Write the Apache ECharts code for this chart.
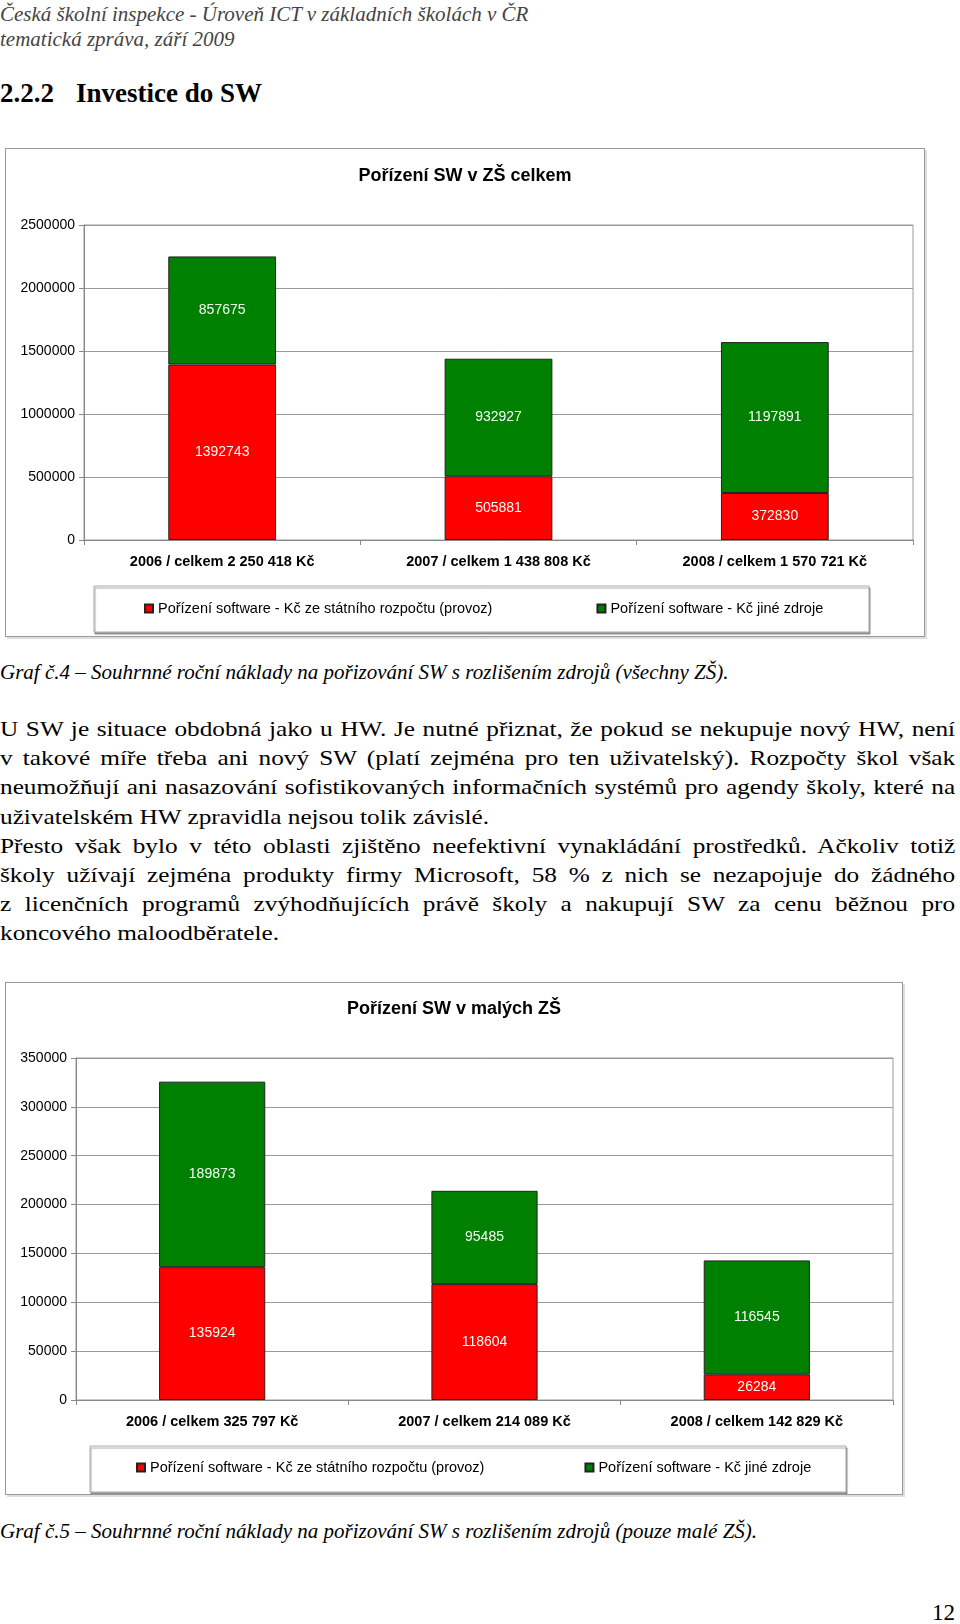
<!DOCTYPE html>
<html>
<head>
<meta charset="utf-8">
<title>Investice do SW</title>
<script src="https://cdn.jsdelivr.net/npm/echarts@6/dist/echarts.min.js"></script>
<style>
  body { margin: 0; width: 960px; height: 1624px; background: #fff; position: relative; font-family: "Liberation Serif", serif; color: #000; overflow: hidden; }
  .abs { position: absolute; white-space: nowrap; }
  #hdr { left: 0; top: 2px; font-style: italic; font-size: 21px; line-height: 24.5px; color: #444; }
  .h2 { top: 78px; font-weight: bold; font-size: 27px; }
  .chart { position: absolute; border: 1px solid #999; box-shadow: 2px 2px 0 #ddd; }
  #chart1 { left: 5px; top: 148px; width: 918px; height: 487px; }
  #chart2 { left: 5px; top: 982px; width: 896px; height: 511px; }
  .cap { font-style: italic; font-size: 21px; }
  #text { position: absolute; left: 0; top: 714px; width: 832px; font-size: 22px; line-height: 29.2px; transform: scaleX(1.148); transform-origin: 0 0; }
  #text div { text-align: justify; text-align-last: justify; white-space: nowrap; }
  #text div.end { text-align-last: left; }
</style>
</head>
<body>
<div id="hdr" class="abs">Česká školní inspekce - Úroveň ICT v základních školách v ČR<br>tematická zpráva, září 2009</div>
<div class="abs h2" style="left:0;">2.2.2</div>
<div class="abs h2" style="left:76px;">Investice do SW</div>

<div id="chart1" class="chart"></div>
<div class="abs cap" style="left:0;top:660px;">Graf č.4 – Souhrnné roční náklady na pořizování SW s rozlišením zdrojů (všechny ZŠ).</div>

<div id="text">
  <div>U SW je situace obdobná jako u HW. Je nutné přiznat, že pokud se nekupuje nový HW, není</div>
  <div>v takové míře třeba ani nový SW (platí zejména pro ten uživatelský). Rozpočty škol však</div>
  <div>neumožňují ani nasazování sofistikovaných informačních systémů pro agendy školy, které na</div>
  <div class="end">uživatelském HW zpravidla nejsou tolik závislé.</div>
  <div>Přesto však bylo v této oblasti zjištěno neefektivní vynakládání prostředků. Ačkoliv totiž</div>
  <div>školy užívají zejména produkty firmy Microsoft, 58 % z nich se nezapojuje do žádného</div>
  <div>z licenčních programů zvýhodňujících právě školy a nakupují SW za cenu běžnou pro</div>
  <div class="end">koncového maloodběratele.</div>
</div>

<div id="chart2" class="chart"></div>
<div class="abs cap" style="left:0;top:1519px;">Graf č.5 – Souhrnné roční náklady na pořizování SW s rozlišením zdrojů (pouze malé ZŠ).</div>
<div class="abs" style="left:932px;top:1600px;font-size:23px;">12</div>

<script>
var seriesNames = ['Pořízení software - Kč ze státního rozpočtu (provoz)', 'Pořízení software - Kč jiné zdroje'];

// graf 4 - vsechny ZS
var years1 = ['2006 / celkem 2 250 418 Kč', '2007 / celkem 1 438 808 Kč', '2008 / celkem 1 570 721 Kč'];
var statni1 = [1392743, 505881, 372830];
var jine1 = [857675, 932927, 1197891];
var yMax1 = 2500000, yStep1 = 500000;

// graf 5 - male ZS
var years2 = ['2006 / celkem 325 797 Kč', '2007 / celkem 214 089 Kč', '2008 / celkem 142 829 Kč'];
var statni2 = [135924, 118604, 26284];
var jine2 = [189873, 95485, 116545];
var yMax2 = 350000, yStep2 = 50000;

function makeOption(cfg) {
  var barLabel = { show: true, position: 'inside', color: '#f4fff4', fontSize: 14, fontFamily: 'Liberation Sans' };
  return {
    animation: false,
    textStyle: { fontFamily: 'Liberation Sans' },
    title: {
      text: cfg.title, left: 'center', top: cfg.titleTop,
      textStyle: { fontSize: 18, fontWeight: 'bold', color: '#000', fontFamily: 'Liberation Sans' }
    },
    grid: {
      left: cfg.grid[0], top: cfg.grid[1], right: cfg.grid[2], bottom: cfg.grid[3],
      show: true, borderColor: '#999', borderWidth: 1
    },
    graphic: [{
      type: 'rect', z: -1,
      shape: { x: cfg.box[0], y: cfg.box[1], width: cfg.box[2], height: cfg.box[3] },
      style: { fill: '#fff', stroke: '#aaa', lineWidth: 1, shadowColor: 'rgba(0,0,0,0.35)', shadowOffsetY: 2, shadowOffsetX: 1, shadowBlur: 1 }
    }],
    legend: {
      data: seriesNames, left: cfg.legend[0], top: cfg.legend[1], itemGap: cfg.legend[2],
      itemWidth: 8, itemHeight: 8, icon: 'rect',
      textStyle: { fontSize: 14.5, color: '#000', fontFamily: 'Liberation Sans' }
    },
    xAxis: {
      type: 'category', data: cfg.cats,
      axisLine: { lineStyle: { color: '#888' } },
      axisTick: { show: true, length: 5, lineStyle: { color: '#888' } },
      axisLabel: { color: '#000', fontWeight: 'bold', fontSize: 14.5, margin: 14, fontFamily: 'Liberation Sans' }
    },
    yAxis: {
      type: 'value', min: 0, max: cfg.max, interval: cfg.step,
      axisLine: { show: true, lineStyle: { color: '#888' } },
      axisTick: { show: true, length: 5, lineStyle: { color: '#888' } },
      axisLabel: { color: '#000', fontSize: 14, margin: 9, fontFamily: 'Liberation Sans',
        formatter: function (v) { return String(v); } },
      splitLine: { lineStyle: { color: '#999' } }
    },
    series: [
      { name: seriesNames[0], type: 'bar', stack: 's', data: cfg.a, barWidth: '39%',
        itemStyle: { color: '#ff0000', borderColor: '#222', borderWidth: 1 }, label: barLabel },
      { name: seriesNames[1], type: 'bar', stack: 's', data: cfg.b, barWidth: '39%',
        itemStyle: { color: '#008000', borderColor: '#222', borderWidth: 1 }, label: barLabel }
    ]
  };
}

var c1 = echarts.init(document.getElementById('chart1'));
c1.setOption(makeOption({
  title: 'Pořízení SW v ZŠ celkem', titleTop: 13,
  grid: [78, 76, 11, 96], box: [88, 437, 775, 46], legend: [133, 447, 104],
  cats: years1, a: statni1, b: jine1, max: yMax1, step: yStep1
}));

var c2 = echarts.init(document.getElementById('chart2'));
c2.setOption(makeOption({
  title: 'Pořízení SW v malých ZŠ', titleTop: 12,
  grid: [70, 75, 9, 94], box: [84, 463, 756, 46], legend: [125, 472, 100],
  cats: years2, a: statni2, b: jine2, max: yMax2, step: yStep2
}));
</script>
</body>
</html>
